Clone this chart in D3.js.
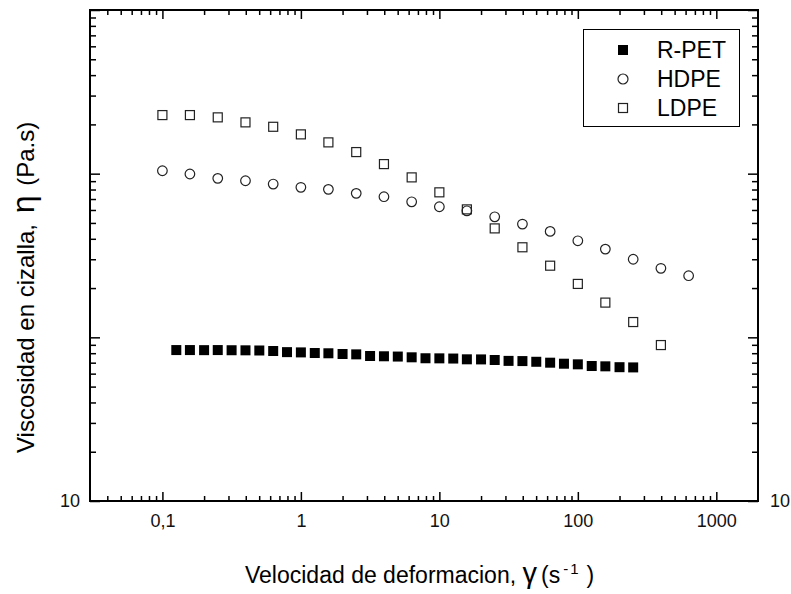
<!DOCTYPE html>
<html lang="es">
<head>
<meta charset="utf-8">
<title>Viscosidad en cizalla</title>
<script src="https://d3js.org/d3.v7.min.js"></script>
<style>
  body { margin: 0; background: #fff; }
  svg { font-family: "Liberation Sans", Arial, sans-serif; }
  .axis .domain { display: none; }
  .axis line { stroke: #000; stroke-width: 1.5px; }
  .axis text { font-size: 18px; fill: #111; }
</style>
</head>
<body>
<div id="chart"></div>
<script>
// shear rate (1/s) for HDPE / LDPE
var rate = [0.1, 0.158, 0.251, 0.398, 0.631, 1, 1.58, 2.51, 3.98, 6.31,
            10, 15.8, 25.1, 39.8, 63.1, 100, 158, 251, 398, 631];
// shear rate (1/s) for R-PET
var ratePet = [0.126, 0.158, 0.2, 0.251, 0.316, 0.398, 0.501, 0.631, 0.794, 1,
               1.26, 1.58, 2, 2.51, 3.16, 3.98, 5.01, 6.31, 7.94, 10,
               12.6, 15.8, 20, 25.1, 31.6, 39.8, 50.1, 63.1, 79.4, 100,
               126, 158, 200, 251];
// viscosity (Pa.s)
var petVisc = [83.6, 83.6, 83.5, 83.6, 83.4, 83.3, 83.1, 82.5, 81.2, 80.9,
               80.2, 79.9, 79.1, 78.7, 76.9, 76.6, 76.3, 75.5, 74.5, 74.4,
               74.2, 73.4, 73.3, 72.7, 71.8, 71.6, 70.9, 70.0, 69.0, 68.4,
               66.8, 66.5, 65.7, 65.5];
var hdpeVisc = [1042, 995, 936, 905, 864, 825, 802, 758, 723, 673,
                628, 593, 545, 492, 444, 389, 346, 300, 264, 238];
var ldpeVisc = [2280, 2280, 2208, 2058, 1934, 1738, 1553, 1355, 1144, 949,
                769, 605, 463, 355, 274, 212, 163, 124, 89.7];

var xMajor = [0.1, 1, 10, 100, 1000];
var xLabels = ["0,1", "1", "10", "100", "1000"];
var yMajor = [10, 100, 1000, 10000];
var seriesNames = ["R-PET", "HDPE", "LDPE"];

var width = 791, height = 594;
// plot box (window.top is reserved, so no plain "top" here)
var pL = 90, pR = 758, pT = 10, pB = 501;

var svg = d3.select("#chart").append("svg")
    .attr("width", width)
    .attr("height", height);

var x = d3.scaleLog().domain([0.03, 2000]).range([pL, pR]);
var y = d3.scaleLog().domain([10, 10000]).range([pB, pT]);

// minor tick values 2..9 per decade, kept inside the domain
function minors(scale) {
  var d = scale.domain(), out = [];
  for (var e = -3; e <= 4; e++) {
    for (var m = 2; m <= 9; m++) {
      var v = m * Math.pow(10, e);
      if (v > d[0] * 1.001 && v < d[1] * 0.999) out.push(v);
    }
  }
  return out;
}

//----------------------------------
// axes (ticks pointing in on all four sides)
svg.append("g").attr("class", "axis")
    .attr("transform", "translate(0," + pB + ")")
    .call(d3.axisBottom(x).tickValues(xMajor).tickSize(-9).tickPadding(13)
      .tickFormat(function(d, i) { return xLabels[i]; }));
svg.append("g").attr("class", "axis")
    .attr("transform", "translate(0," + pB + ")")
    .call(d3.axisBottom(x).tickValues(minors(x)).tickSize(-5).tickFormat(""));

svg.append("g").attr("class", "axis")
    .attr("transform", "translate(0," + pT + ")")
    .call(d3.axisTop(x).tickValues(xMajor).tickSize(-9).tickFormat(""));
svg.append("g").attr("class", "axis")
    .attr("transform", "translate(0," + pT + ")")
    .call(d3.axisTop(x).tickValues(minors(x)).tickSize(-5).tickFormat(""));

svg.append("g").attr("class", "axis")
    .attr("transform", "translate(" + pL + ",0)")
    .call(d3.axisLeft(y).tickValues(yMajor).tickSize(-10).tickPadding(10)
      .tickFormat(function(d) { return d === 10 ? "10" : ""; }));
svg.append("g").attr("class", "axis")
    .attr("transform", "translate(" + pL + ",0)")
    .call(d3.axisLeft(y).tickValues(minors(y)).tickSize(-6).tickFormat(""));

svg.append("g").attr("class", "axis")
    .attr("transform", "translate(" + pR + ",0)")
    .call(d3.axisRight(y).tickValues(yMajor).tickSize(-10).tickPadding(12)
      .tickFormat(function(d) { return d === 10 ? "10" : ""; }));
svg.append("g").attr("class", "axis")
    .attr("transform", "translate(" + pR + ",0)")
    .call(d3.axisRight(y).tickValues(minors(y)).tickSize(-6).tickFormat(""));

// frame
svg.append("rect")
    .attr("x", pL).attr("y", pT)
    .attr("width", pR - pL).attr("height", pB - pT)
    .attr("fill", "none").attr("stroke", "#000").attr("stroke-width", 2);

//----------------------------------
// data
var pet = ratePet.map(function(r, i) { return [r, petVisc[i]]; });
var hdpe = rate.map(function(r, i) { return [r, hdpeVisc[i]]; }).filter(function(d) { return d[1] != null; });
var ldpe = rate.map(function(r, i) { return [r, ldpeVisc[i]]; }).filter(function(d) { return d[1] != null; });

svg.append("g").selectAll("rect")
    .data(pet).enter().append("rect")
    .attr("x", function(d) { return x(d[0]) - 5; })
    .attr("y", function(d) { return y(d[1]) - 5; })
    .attr("width", 10).attr("height", 10)
    .attr("fill", "#000");

svg.append("g").selectAll("circle")
    .data(hdpe).enter().append("circle")
    .attr("cx", function(d) { return x(d[0]); })
    .attr("cy", function(d) { return y(d[1]); })
    .attr("r", 4.8)
    .attr("fill", "none").attr("stroke", "#222").attr("stroke-width", 1.2);

svg.append("g").selectAll("rect")
    .data(ldpe).enter().append("rect")
    .attr("x", function(d) { return x(d[0]) - 4.5; })
    .attr("y", function(d) { return y(d[1]) - 4.5; })
    .attr("width", 9).attr("height", 9)
    .attr("fill", "none").attr("stroke", "#222").attr("stroke-width", 1.2);

//----------------------------------
// legend
var lg = svg.append("g");
lg.append("rect")
    .attr("x", 583.5).attr("y", 29.5).attr("width", 156).attr("height", 97)
    .attr("fill", "#fff").attr("stroke", "#000").attr("stroke-width", 1);

var rowY = [50, 79, 108];
lg.append("rect")
    .attr("x", 618).attr("y", rowY[0] - 5).attr("width", 10).attr("height", 10)
    .attr("fill", "#000");
lg.append("circle")
    .attr("cx", 623).attr("cy", rowY[1]).attr("r", 5)
    .attr("fill", "none").attr("stroke", "#222").attr("stroke-width", 1.2);
lg.append("rect")
    .attr("x", 618.5).attr("y", rowY[2] - 4.5).attr("width", 9).attr("height", 9)
    .attr("fill", "none").attr("stroke", "#222").attr("stroke-width", 1.2);

lg.selectAll("text")
    .data(seriesNames).enter().append("text")
    .attr("x", 657)
    .attr("y", function(d, i) { return rowY[i] + 7.5; })
    .attr("font-size", 23)
    .attr("fill", "#000")
    .text(function(d) { return d; });

//----------------------------------
// titles
var xt = svg.append("text")
    .attr("x", 245).attr("y", 583)
    .attr("font-size", 23).attr("fill", "#000");
xt.append("tspan").text("Velocidad de deformacion, ");
xt.append("tspan").attr("font-size", 29).text("\u03B3");
xt.append("tspan").attr("dx", 4).text("(s");
xt.append("tspan").attr("font-size", 15).attr("dx", 3).attr("dy", -9)
    .attr("letter-spacing", 2).text("-1");
xt.append("tspan").attr("dx", 6).attr("dy", 9).text(")");

var yt = svg.append("text")
    .attr("transform", "translate(34,453) rotate(-90)")
    .attr("font-size", 24).attr("fill", "#000");
yt.append("tspan").text("Viscosidad en cizalla, ");
yt.append("tspan").attr("font-size", 32).attr("dx", 4).text("\u03B7");
yt.append("tspan").attr("dx", 3).text(" (Pa.s)");
</script>
</body>
</html>
